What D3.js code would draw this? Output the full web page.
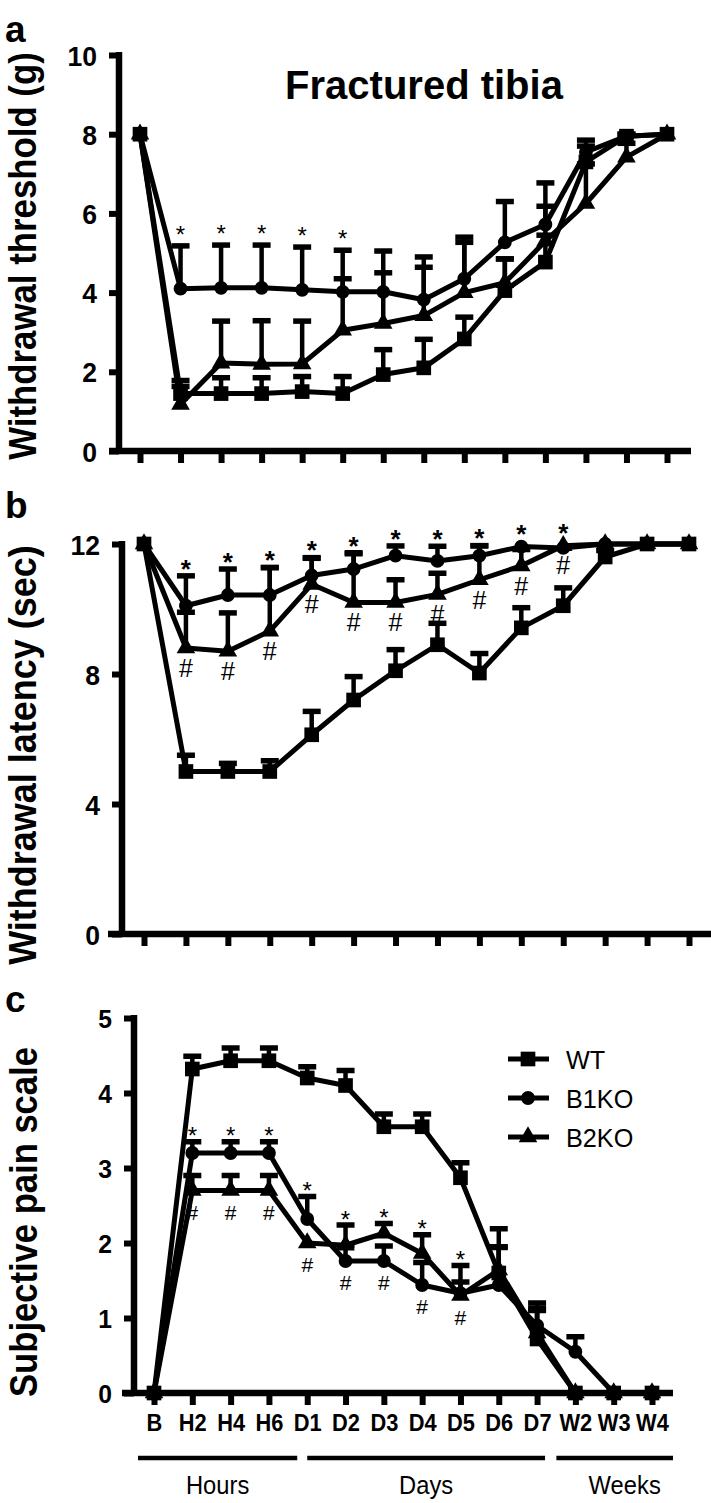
<!DOCTYPE html>
<html><head><meta charset="utf-8">
<script src="https://cdn.jsdelivr.net/npm/d3@7/dist/d3.min.js"></script>
<style>html,body{margin:0;padding:0;background:#fff;} svg{display:block;}</style>
</head><body>
<script>
// ---------- data ----------
const cats = ["B","H2","H4","H6","D1","D2","D3","D4","D5","D6","D7","W2","W3","W4"];
const seriesNames = ["WT","B1KO","B2KO"];

// panel a: withdrawal threshold (g)
const wtA    = [8, 1.45, 1.45, 1.45, 1.5, 1.45, 1.93, 2.1, 2.83, 4.05, 4.77, 7.3, 7.95, 8];
const wtAErr = [0, 0.33, 0.4, 0.4, 0.38, 0.43, 0.63, 0.72, 0.55, 0.8, 0.68, 0.4, 0.05, 0];
const b1A    = [8, 4.1, 4.12, 4.12, 4.07, 4.02, 4.02, 3.82, 4.35, 5.27, 5.72, 7.55, 7.95, 8];
const b1AErr = [0, 1.08, 1.08, 1.08, 1.08, 1.05, 1.03, 1.08, 1.05, 1.03, 1.05, 0.3, 0.05, 0];
const b2A    = [8, 1.18, 2.22, 2.19, 2.2, 3.05, 3.22, 3.42, 4.0, 4.25, 5.3, 6.25, 7.42, 8];
const b2AErr = [0, 0.45, 1.06, 1.1, 1.08, 1.3, 1.28, 1.22, 1.27, 0.6, 0.88, 1.0, 0.35, 0];
const starsA = ["H2","H4","H6","D1","D2"];
const hashA  = [];

// panel b: withdrawal latency (sec)
const wtB    = [12, 5.0, 5.0, 5.0, 6.13, 7.2, 8.1, 8.9, 8.03, 9.42, 10.1, 11.6, 12, 12];
const wtBErr = [0, 0.5, 0.25, 0.33, 0.72, 0.72, 0.65, 0.66, 0.6, 0.62, 0.55, 0.2, 0, 0];
const b1B    = [12, 10.1, 10.43, 10.43, 11.03, 11.23, 11.64, 11.48, 11.64, 11.92, 11.88, 12, 12, 12];
const b1BErr = [0, 0.92, 0.8, 0.85, 0.55, 0.5, 0.3, 0.45, 0.3, 0, 0, 0, 0, 0];
const b2B    = [12, 8.8, 8.7, 9.32, 10.76, 10.2, 10.2, 10.45, 10.9, 11.33, 11.95, 12, 12, 12];
const b2BErr = [0, 1.1, 1.18, 1.95, 0.8, 1.5, 0.7, 0.65, 1.05, 0.5, 0, 0, 0, 0];
const starsB = ["H2","H4","H6","D1","D2","D3","D4","D5","D6","D7"];
const hashB  = ["H2","H4","H6","D1","D2","D3","D4","D5","D6","D7"];

// panel c: subjective pain scale
const wtC    = [0, 4.32, 4.43, 4.43, 4.2, 4.1, 3.55, 3.55, 2.87, 1.6, 0.72, 0, 0, 0];
const wtCErr = [0, 0.17, 0.17, 0.17, 0.15, 0.2, 0.17, 0.17, 0.2, 0.35, 0.48, 0, 0, 0];
const b1C    = [0, 3.2, 3.2, 3.2, 2.32, 1.76, 1.76, 1.44, 1.33, 1.44, 0.9, 0.55, 0, 0];
const b1CErr = [0, 0.15, 0.15, 0.15, 0.3, 0.2, 0.2, 0.3, 0.15, 0.5, 0.23, 0.2, 0, 0];
const b2C    = [0, 2.7, 2.7, 2.7, 2.0, 1.97, 2.13, 1.86, 1.3, 1.64, 0.8, 0, 0, 0];
const b2CErr = [0, 0.2, 0.2, 0.2, 0, 0.27, 0.13, 0.25, 0.4, 0.55, 0.3, 0, 0, 0];
const starsC = ["H2","H4","H6","D1","D2","D3","D4","D5"];
const hashC  = ["H2","H4","H6","D1","D2","D3","D4","D5"];

const ticksA = [0,2,4,6,8,10];
const ticksB = [0,4,8,12];
const ticksC = [0,1,2,3,4,5];
const groups = [["Hours","B","D1"],["Days","D1","D7"],["Weeks","W2","W4"]];

// ---------- drawing ----------
const FONT = "'Liberation Sans', Arial, sans-serif";
const svg = d3.select("body").append("svg").attr("width",711).attr("height",1503);

function txt(parent, x, y, s, size, weight, anchor, sx) {
  return parent.append("text")
    .attr("transform", `translate(${x},${y}) scale(${sx},1)`)
    .attr("text-anchor", anchor)
    .style("font-family", FONT).style("font-size", size+"px").style("font-weight", weight)
    .attr("fill","#000").text(s);
}

const shapes = {WT: d3.symbolSquare, B1KO: d3.symbolCircle, B2KO: d3.symbolTriangle};
const shapeSize = {WT: 215, B1KO: 150, B2KO: 150};

function panel(cfg) {
  const g = svg.append("g");
  const x = d3.scalePoint().domain(cats).range([cfg.x0, cfg.x1]);
  const y = d3.scaleLinear().domain([0, cfg.yMax]).range([cfg.yBot, cfg.yTop]);

  // axes
  const ya = g.append("g").attr("transform", `translate(${cfg.axisX},0)`)
    .call(d3.axisLeft(y).tickValues(cfg.ticks).tickSize(10).tickSizeOuter(0).tickPadding(0).tickFormat(d3.format("d")));
  ya.select(".domain").remove();
  ya.selectAll(".tick line").attr("stroke","#000").attr("stroke-width",6);
  ya.selectAll(".tick text").attr("x", null).attr("dy", null)
    .attr("transform", `translate(-22,${cfg.tickFs*0.36}) scale(${cfg.sx},1)`)
    .style("font-family", FONT).style("font-size", cfg.tickFs+"px").style("font-weight","bold");

  const xa = g.append("g").attr("transform", `translate(0,${cfg.yBot})`)
    .call(d3.axisBottom(x).tickSize(12).tickSizeOuter(0).tickPadding(10).tickFormat(cfg.xLabels ? (d=>d) : ""));
  xa.select(".domain").remove();
  xa.selectAll(".tick line").attr("stroke","#000").attr("stroke-width",6);
  xa.selectAll(".tick text").style("font-family", FONT).style("font-size","23px").style("font-weight","bold")
    .attr("transform", `scale(0.95,1)`);

  g.append("line").attr("x1", cfg.axisX).attr("x2", cfg.axisX).attr("y1", y(cfg.yMax)-3).attr("y2", cfg.yBot)
    .attr("stroke","#000").attr("stroke-width",6.5);
  g.append("line").attr("x1", cfg.xStart).attr("x2", cfg.xEnd).attr("y1", cfg.yBot).attr("y2", cfg.yBot)
    .attr("stroke","#000").attr("stroke-width",6.5);

  const series = [
    {name:"WT", v:cfg.wt, e:cfg.wtErr},
    {name:"B1KO", v:cfg.b1, e:cfg.b1Err},
    {name:"B2KO", v:cfg.b2, e:cfg.b2Err}
  ];
  // error bars (upper)
  series.forEach(s => {
    s.v.forEach((v,i) => {
      if (!s.e[i]) return;
      const cx = x(cats[i]), y0 = y(v), y1 = y(v + s.e[i]);
      g.append("line").attr("x1",cx).attr("x2",cx).attr("y1",y0).attr("y2",y1).attr("stroke","#000").attr("stroke-width",4.5);
      g.append("line").attr("x1",cx-9).attr("x2",cx+9).attr("y1",y1).attr("y2",y1).attr("stroke","#000").attr("stroke-width",5.5);
    });
  });
  // lines
  const line = d3.line().x((d,i)=>x(cats[i])).y(d=>y(d));
  series.forEach(s => {
    g.append("path").datum(s.v).attr("d", line).attr("fill","none").attr("stroke","#000").attr("stroke-width",5).attr("stroke-linejoin","round");
  });
  // markers
  series.forEach(s => {
    g.selectAll(null).data(s.v).enter().append("path")
      .attr("d", d3.symbol().type(shapes[s.name]).size(shapeSize[s.name]))
      .attr("transform", (d,i)=>`translate(${x(cats[i])},${y(d)})`)
      .attr("fill","#000");
  });
  // significance marks
  cfg.stars.forEach(c => {
    const i = cats.indexOf(c);
    const t1 = cfg.b1[i]+cfg.b1Err[i], t2 = cfg.b2[i]+cfg.b2Err[i];
    const top = Math.max(t1, t2);
    const hasErr = (t1 === top ? cfg.b1Err[i] : cfg.b2Err[i]) > 0;
    const cy = y(top) - (hasErr ? cfg.starOff : cfg.starOff + 5);
    txt(g, x(c), cy + cfg.starFs*0.57, "*", cfg.starFs, cfg.starW, "middle", 1);
  });
  cfg.hashes.forEach(c => {
    const i = cats.indexOf(c);
    const low = cfg.hashRef === "min" ? Math.min(cfg.b1[i], cfg.b2[i]) : cfg.b2[i];
    const cy = y(low) + cfg.hashOff;
    txt(g, x(c), cy + cfg.hashFs*0.35, "#", cfg.hashFs, "normal", "middle", 1);
  });
  // y title
  g.append("text").attr("transform", `translate(${cfg.titleX},${cfg.titleY}) scale(1.1,1) rotate(-90)`)
    .attr("text-anchor","middle").style("font-family", FONT).style("font-size", cfg.titleFs+"px").style("font-weight","bold")
    .text(cfg.title);
  // panel letter
  txt(g, 5, cfg.letterY, cfg.letter, 37, "bold", "start", 1);
  return {g, x, y};
}

const pa = panel({x0:140, x1:667, axisX:119, yTop:55, yBot:451, yMax:10, ticks:ticksA, xStart:109, xEnd:691,
  tickFs:28, sx:0.95, wt:wtA, wtErr:wtAErr, b1:b1A, b1Err:b1AErr, b2:b2A, b2Err:b2AErr,
  stars:starsA, hashes:hashA, starOff:17, starFs:24, starW:"normal", hashOff:18, hashFs:22, hashRef:"b2",
  title:"Withdrawal threshold (g)", titleX:36, titleY:256, titleFs:34.8, letter:"a", letterY:42});
txt(pa.g, 424, 99, "Fractured tibia", 40, "bold", "middle", 1);

panel({x0:144, x1:689, axisX:122, yTop:544, yBot:934, yMax:12, ticks:ticksB, xStart:108, xEnd:711,
  tickFs:28, sx:0.95, wt:wtB, wtErr:wtBErr, b1:b1B, b1Err:b1BErr, b2:b2B, b2Err:b2BErr,
  stars:starsB, hashes:hashB, starOff:13, starFs:26, starW:"bold", hashOff:20, hashFs:25, hashRef:"b2",
  title:"Withdrawal latency (sec)", titleX:36, titleY:755, titleFs:36, letter:"b", letterY:518});

const pc = panel({x0:154, x1:652, axisX:134, yTop:1018, yBot:1393, yMax:5, ticks:ticksC, xStart:122, xEnd:673,
  tickFs:26, sx:0.95, xLabels:true, wt:wtC, wtErr:wtCErr, b1:b1C, b1Err:b1CErr, b2:b2C, b2Err:b2CErr,
  stars:starsC, hashes:hashC, starOff:11, starFs:24, starW:"normal", hashOff:22, hashFs:21, hashRef:"min",
  title:"Subjective pain scale", titleX:37, titleY:1222, titleFs:34.6, letter:"c", letterY:1012});

// time-group bars under panel c
const gx = pc.x;
const grpOff = {Hours:[-16,-10], Days:[0,8], Weeks:[-19,21]};
groups.forEach(([name,a,b]) => {
  const x1 = gx(a) + grpOff[name][0], x2 = gx(b) + grpOff[name][1];
  pc.g.append("line").attr("x1",x1).attr("x2",x2).attr("y1",1458).attr("y2",1458).attr("stroke","#000").attr("stroke-width",4.5);
  txt(pc.g, (x1+x2)/2 + (name==="Weeks"?10:0), 1494, name, 25, "normal", "middle", 0.95);
});

// legend
const legY = [1059, 1098, 1137];
seriesNames.forEach((n,i) => {
  pc.g.append("line").attr("x1",508).attr("x2",549).attr("y1",legY[i]).attr("y2",legY[i]).attr("stroke","#000").attr("stroke-width",5);
  pc.g.append("path").attr("d", d3.symbol().type(shapes[n]).size(shapeSize[n])).attr("transform",`translate(528,${legY[i]})`).attr("fill","#000");
  txt(pc.g, 566, legY[i]+9.5, n, 26, "normal", "start", 0.97);
});
</script>
</body></html>
